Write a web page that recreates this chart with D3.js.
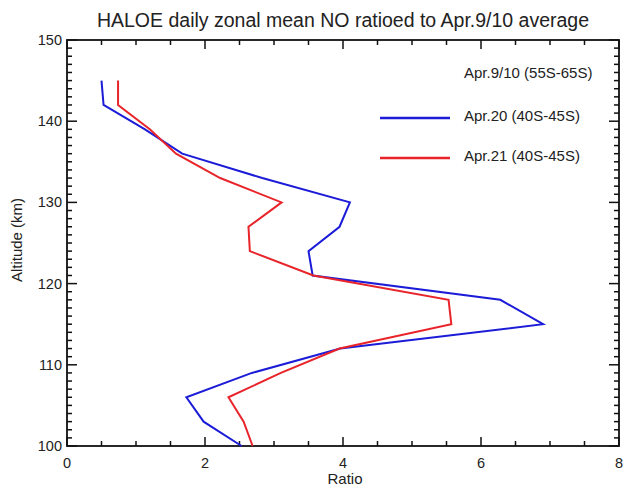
<html>
  <script src="https://cdnjs.cloudflare.com/ajax/libs/d3/7.8.5/d3.min.js"></script>
  <style>
    html, body {
      margin: 0px;
      padding: 0px;
      background: #fff;
    }
    svg text {
      font-family: "Liberation Sans", Arial, sans-serif;
      fill: #222;
    }
  </style>
  <body>
    <svg id="chart" width="633" height="487"></svg>
    <script>
      // altitude levels (km) and ratios
      var altitudes = [145, 142, 139, 136, 133, 130, 127, 124, 121, 118, 115, 112, 109, 106, 103, 100];
      var apr20 = [0.50, 0.53, 1.13, 1.67, 2.83, 4.10, 3.95, 3.50, 3.56, 6.28, 6.90, 3.96, 2.68, 1.73, 1.98, 2.53];
      var apr21 = [0.74, 0.74, 1.20, 1.58, 2.22, 3.11, 2.63, 2.65, 3.57, 5.53, 5.57, 3.95, 3.10, 2.34, 2.56, 2.69];
      var seriesNames = ["Apr.20 (40S-45S)", "Apr.21 (40S-45S)"];
      var seriesColors = ["#1c1cd8", "#e8242a"];
      var xTicks = [0, 2, 4, 6, 8];
      var yTicks = [100, 110, 120, 130, 140, 150];

      (function() {
        var svg = d3.select("#chart");
        var m = { left: 67, right: 619, top: 40, bottom: 446 };

        var x = d3.scaleLinear().domain([0, 8]).range([m.left, m.right]);
        var y = d3.scaleLinear().domain([100, 150]).range([m.bottom, m.top]);

        // minor ticks
        var xMinor = d3.range(0, 8.01, 0.5).filter(function(v) { return v % 2 !== 0; });
        var yMinor = d3.range(100, 150.1, 1).filter(function(v) { return v % 10 !== 0; });

        var g = svg.append("g");

        function tickLines(vals, fn, cls) {
          g.selectAll("line." + cls).data(vals).enter().append("line")
            .attr("class", cls)
            .each(fn)
            .attr("stroke", "#111")
            .attr("stroke-width", 1.5);
        }

        // bottom / top
        tickLines(xTicks, function(d) { d3.select(this).attr("x1", x(d)).attr("x2", x(d)).attr("y1", m.bottom).attr("y2", m.bottom - 9); }, "xb");
        tickLines(xTicks, function(d) { d3.select(this).attr("x1", x(d)).attr("x2", x(d)).attr("y1", m.top).attr("y2", m.top + 9); }, "xt");
        tickLines(xMinor, function(d) { d3.select(this).attr("x1", x(d)).attr("x2", x(d)).attr("y1", m.bottom).attr("y2", m.bottom - 5); }, "xbm");
        tickLines(xMinor, function(d) { d3.select(this).attr("x1", x(d)).attr("x2", x(d)).attr("y1", m.top).attr("y2", m.top + 5); }, "xtm");
        // left / right
        tickLines(yTicks, function(d) { d3.select(this).attr("y1", y(d)).attr("y2", y(d)).attr("x1", m.left).attr("x2", m.left + 10); }, "yl");
        tickLines(yTicks, function(d) { d3.select(this).attr("y1", y(d)).attr("y2", y(d)).attr("x1", m.right).attr("x2", m.right - 10); }, "yr");
        tickLines(yMinor, function(d) { d3.select(this).attr("y1", y(d)).attr("y2", y(d)).attr("x1", m.left).attr("x2", m.left + 5); }, "ylm");
        tickLines(yMinor, function(d) { d3.select(this).attr("y1", y(d)).attr("y2", y(d)).attr("x1", m.right).attr("x2", m.right - 5); }, "yrm");

        g.append("rect")
          .attr("x", m.left).attr("y", m.top)
          .attr("width", m.right - m.left).attr("height", m.bottom - m.top)
          .attr("fill", "none").attr("stroke", "#111").attr("stroke-width", 1.8);

        // tick labels
        g.selectAll("text.xl").data(xTicks).enter().append("text")
          .attr("class", "xl")
          .attr("x", function(d) { return x(d); })
          .attr("y", m.bottom + 22)
          .attr("text-anchor", "middle")
          .style("font-size", "14.5px")
          .text(function(d) { return d; });

        g.selectAll("text.yl").data(yTicks).enter().append("text")
          .attr("class", "yl")
          .attr("x", m.left - 5)
          .attr("y", function(d) { return y(d) + 5; })
          .attr("text-anchor", "end")
          .style("font-size", "14.5px")
          .text(function(d) { return d; });

        // titles
        svg.append("text")
          .attr("x", 343).attr("y", 27)
          .attr("text-anchor", "middle")
          .style("font-size", "19.5px")
          .text("HALOE daily zonal mean NO ratioed to Apr.9/10 average");

        svg.append("text")
          .attr("x", 345).attr("y", 484)
          .attr("text-anchor", "middle")
          .style("font-size", "15px")
          .text("Ratio");

        svg.append("text")
          .attr("transform", "translate(22,240) rotate(-90)")
          .attr("text-anchor", "middle")
          .style("font-size", "15px")
          .text("Altitude (km)");

        // profiles
        var line = d3.line()
          .x(function(d) { return x(d[0]); })
          .y(function(d) { return y(d[1]); });

        [apr20, apr21].forEach(function(vals, i) {
          svg.append("path")
            .datum(vals.map(function(v, j) { return [v, altitudes[j]]; }))
            .attr("d", line)
            .attr("fill", "none")
            .attr("stroke", seriesColors[i])
            .attr("stroke-width", 2);
        });

        // legend
        svg.append("text")
          .attr("x", 464).attr("y", 78)
          .style("font-size", "15px")
          .text("Apr.9/10 (55S-65S)");

        var legendY = [118, 158];
        seriesNames.forEach(function(label, i) {
          svg.append("line")
            .attr("x1", 380).attr("x2", 450)
            .attr("y1", legendY[i]).attr("y2", legendY[i])
            .attr("stroke", seriesColors[i])
            .attr("stroke-width", 2.5);
          svg.append("text")
            .attr("x", 464).attr("y", legendY[i] + 3)
            .style("font-size", "15px")
            .text(label);
        });
      })();
    </script>
  </body>
</html>
